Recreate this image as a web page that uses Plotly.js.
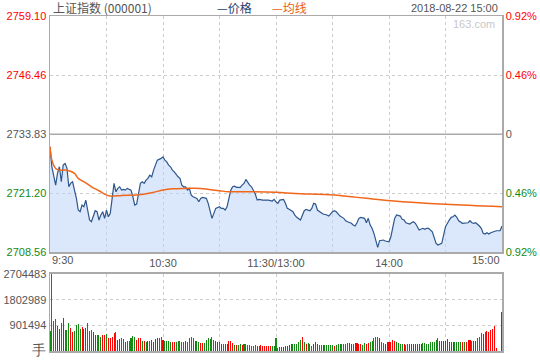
<!DOCTYPE html>
<html>
<head>
<meta charset="utf-8">
<script src="https://cdn.plot.ly/plotly-3.0.1.min.js"></script>
<style>html,body{margin:0;padding:0;background:#fff;}#chart{width:540px;height:360px;}</style>
</head>
<body>
<div id="chart"></div>
<script>
// ---- data (minute index from 9:30; 120 = 11:30/13:00; 240 = 15:00) ----
const priceMinutes = [0,1,3,4,5,6,7,8,9,10,11,12,13,14,15,16,17,18,19,20,21,22,23,24,25,26,27,28,29,30,31,32,33,34,35,36,37,38,39,40,41,43,44,45,46,47,48,49,50,51,52,53,54,55,56,57,59,60,61,62,63,64,65,66,68,69,70,71,72,73,74,75,76,78,79,
80,81,83,84,85,86,87,88,90,91,92,93,94,95,96,97,98,99,101,102,103,104,105,106,107,108,109,110,111,113,114,116,118,119,120,121,122,124,125,126,127,129,130,131,133,134,135,136,137,138,139,140,141,142,144,145,147,148,150,151,152,153,154,156,157,
158,160,161,162,163,164,165,167,168,169,170,171,172,173,174,175,176,177,178,180,181,182,183,184,186,187,188,189,190,191,192,193,194,195,196,198,199,200,201,203,204,205,206,208,209,210,212,213,214,215,216,217,219,220,222,223,224,225,226,228,229,230,231,232,233,234,236,237,239,240];
const price = [2731.12,2726.85,2722.94,2725.50,2726.85,2723.64,2727.21,2727.57,2726.57,2722.57,2723.36,2723.64,2721.87,2720.16,2717.60,2717.23,2718.66,2718.30,2719.73,2717.60,2715.46,2715.10,2716.53,2717.45,2717.23,2715.46,2716.53,2717.23,2715.82,2717.60,2716.17,2716.89,2720.10,2723.30,2721.51,2722.23,2722.57,2721.87,2722.02,2721.87,2722.23,2721.87,2720.44,2718.66,2718.88,2720.80,2723.30,2723.64,2723.30,2724.00,2724.37,2725.07,2724.71,2726.14,2727.21,2728.28,2728.64,2728.98,2728.28,2727.91,2727.21,2726.85,2726.14,2725.78,2724.71,2724.37,2722.94,2722.57,2722.57,2721.87,2722.23,2720.80,2720.44,2720.10,2719.37,
2720.10,2720.31,2720.10,2719.03,2717.23,2715.82,2716.89,2717.96,2718.30,2717.96,2717.96,2717.60,2718.30,2720.10,2721.87,2722.57,2722.72,2722.45,2722.45,2722.94,2723.30,2724.15,2723.43,2722.94,2722.57,2721.87,2721.01,2719.73,2719.88,2719.73,2719.73,2719.73,2719.52,2719.88,2719.37,2719.03,2719.73,2719.88,2719.03,2717.96,2717.75,2717.23,2716.53,2716.04,2715.46,2716.31,2717.45,2717.75,2717.60,2717.45,2717.96,2719.03,2718.88,2717.60,2717.02,2716.74,2716.53,2716.31,2717.23,2717.45,2717.23,2716.74,2716.31,2715.82,2715.31,
2715.10,2714.76,2714.39,2714.18,2714.88,2715.82,2716.04,2715.82,2714.88,2715.82,2714.39,2713.69,2712.62,2711.19,2709.63,2711.04,2711.19,2711.19,2710.97,2710.82,2711.89,2714.03,2715.82,2716.53,2716.31,2715.61,2715.46,2714.88,2714.76,2714.61,2714.88,2715.10,2714.76,2713.90,2713.32,2713.69,2713.47,2713.69,2713.69,2712.96,2711.55,2710.48,2710.12,2710.48,2712.26,2714.03,2715.46,2716.04,2716.17,2716.53,2716.04,2715.31,2714.76,2714.76,2714.88,2715.31,2714.88,2714.76,2714.88,2714.18,2713.69,2712.62,2712.47,2712.75,2712.47,2712.75,2712.96,2713.17,2713.17,2714.18];

const avgMinutes = [0,1,3,5,8,10,13,15,19,22,26,29,32,38,46,54,60,65,72,80,90,95,106,120,130,151,160,168,181,210,240];
const avgPrice = [2731.12,2728.28,2726.50,2726.14,2726.14,2725.99,2725.43,2724.37,2723.43,2722.57,2721.72,2721.01,2720.59,2720.73,2720.80,2721.29,2721.87,2722.15,2722.23,2722.23,2721.72,2721.51,2721.51,2721.38,2721.16,2720.80,2720.44,2720.10,2719.58,2718.82,2718.30];

// volume per minute 0..240 and direction (1 = up/red, -1 = down/green)
const volume = [702000,2704483,1054000,1124000,890000,773000,972000,1170000,738000,738000,1000000,820000,656000,702000,913000,948000,773000,855000,773000,820000,
983000,702000,726000,656000,562000,562000,562000,492000,562000,562000,585000,468000,468000,503000,620000,656000,386000,421000,445000,421000,
304000,351000,351000,445000,539000,492000,386000,445000,468000,351000,351000,328000,351000,351000,386000,328000,421000,445000,445000,503000,
386000,351000,351000,351000,328000,328000,304000,304000,351000,351000,328000,304000,351000,328000,445000,503000,468000,351000,351000,328000,
293000,269000,269000,386000,445000,421000,503000,386000,351000,304000,304000,258000,258000,258000,258000,351000,351000,269000,211000,211000,
211000,234000,211000,234000,234000,211000,211000,187000,164000,211000,187000,187000,211000,187000,187000,164000,187000,187000,187000,187000,
468000,94000,152000,152000,140000,187000,187000,211000,258000,234000,234000,258000,304000,386000,503000,328000,234000,269000,234000,187000,
234000,328000,258000,211000,211000,211000,211000,211000,211000,211000,211000,187000,211000,234000,234000,258000,258000,258000,281000,281000,
258000,258000,281000,281000,258000,234000,211000,281000,258000,281000,304000,351000,445000,503000,480000,445000,304000,281000,258000,304000,
304000,304000,386000,351000,304000,281000,258000,258000,258000,211000,258000,258000,258000,258000,258000,258000,258000,258000,269000,281000,
258000,258000,304000,304000,328000,386000,445000,351000,351000,351000,351000,421000,328000,304000,304000,328000,328000,328000,304000,304000,
328000,304000,386000,386000,351000,351000,351000,468000,503000,620000,585000,656000,702000,656000,738000,773000,890000,94000,0,0,
1380000];
const volDir = [-1,-1,-1,-1,1,1,-1,1,-1,-1,-1,1,1,-1,-1,-1,-1,1,1,1,
-1,-1,-1,1,1,-1,-1,-1,1,1,-1,1,1,1,1,-1,1,1,-1,-1,
1,-1,-1,-1,-1,-1,1,1,1,-1,1,-1,1,-1,1,1,1,1,-1,-1,
1,-1,-1,-1,-1,1,1,-1,-1,-1,-1,-1,1,-1,-1,-1,-1,1,-1,-1,
1,1,-1,-1,-1,-1,-1,-1,1,1,-1,1,-1,1,1,1,1,1,-1,1,
-1,-1,1,-1,-1,-1,-1,-1,-1,-1,1,-1,1,1,1,1,1,1,-1,-1,
-1,-1,1,1,1,1,1,1,1,-1,-1,-1,-1,-1,1,-1,1,-1,-1,-1,
1,1,1,-1,-1,1,-1,-1,-1,-1,-1,1,-1,-1,-1,-1,-1,-1,-1,1,
1,-1,1,1,1,1,-1,-1,1,1,-1,-1,-1,-1,-1,1,-1,-1,1,1,
1,1,1,1,-1,-1,-1,-1,1,-1,-1,1,1,1,1,1,1,1,-1,-1,
-1,-1,-1,-1,-1,-1,-1,1,1,1,1,1,1,1,1,-1,-1,-1,-1,1,
-1,1,1,1,-1,1,1,-1,-1,-1,1,-1,1,1,1,1,1,1,1,1,
1];
const volMinutes = volume.map((v, i) => i);

const priceTicks = [2708.56, 2721.20, 2733.83, 2746.46, 2759.10];
const pctTicks = ['0.92%', '0.46%', '0', '0.46%', '0.92%'];
const volTicks = [0, 901494, 1802989, 2704483];
const volTickText = ['手', '901494', '1802989', '2704483'];
const timeTickVals = [60, 120, 180];
const timeTickText = ['10:30', '11:30/13:00', '14:00'];

// ---- styles ----
const RED = '#ff0000', GREEN = '#138a13', GRAY = '#555555';
const tickColors = [GREEN, GREEN, GRAY, RED, RED];
const span = (t, c) => '<span style="color:' + c + '">' + t + '</span>';
const DASH = '3px,3px';

const traces = [
  { x: priceMinutes, y: price, type: 'scatter', mode: 'lines', xaxis: 'x', yaxis: 'y',
    line: { color: '#2d568c', width: 1.2 }, fill: 'tozeroy', fillcolor: 'rgba(190,212,246,0.55)', hoverinfo: 'skip' },
  { x: avgMinutes, y: avgPrice, type: 'scatter', mode: 'lines', xaxis: 'x', yaxis: 'y3',
    line: { color: '#f0661a', width: 1.5, shape: 'spline' }, hoverinfo: 'skip' },
  { x: volMinutes, y: volume, type: 'bar', xaxis: 'x2', yaxis: 'y2', width: 0.55,
    marker: { color: volDir.map(d => d > 0 ? RED : GREEN), line: { width: 0 } }, hoverinfo: 'skip' }
];

const axFont = { family: 'Liberation Sans, Arial, sans-serif', size: 11, color: GRAY };
const xCommon = {
  range: [0, 240], showline: true, mirror: true, linecolor: '#aaaaaa', linewidth: 1.5,
  zeroline: false, ticks: '', tickfont: axFont,
  showgrid: false,
  minor: { dtick: 30, tick0: 0, showgrid: true, gridcolor: '#cccccc', griddash: DASH, gridwidth: 1, ticks: '' }
};

const layout = {
  width: 540, height: 360,
  margin: { l: 50, r: 38, t: 16, b: 9, pad: 0 },
  paper_bgcolor: '#ffffff', plot_bgcolor: '#ffffff',
  showlegend: false, bargap: 0,
  xaxis: Object.assign({}, xCommon, { anchor: 'y', tickvals: timeTickVals, ticktext: timeTickText, showticklabels: true }),
  xaxis2: Object.assign({}, xCommon, { anchor: 'y2', matches: 'x', showticklabels: false }),
  yaxis: {
    domain: [0.2946, 1], range: [2708.56, 2759.10], anchor: 'x',
    showline: true, mirror: false, linecolor: '#aaaaaa', linewidth: 1.5,
    tickvals: priceTicks, ticktext: priceTicks.map((v, i) => span(v.toFixed(2), tickColors[i])),
    tickfont: axFont, ticks: '', zeroline: false,
    showgrid: true, gridcolor: '#cccccc', griddash: DASH, gridwidth: 1
  },
  yaxis3: {
    overlaying: 'y', side: 'right', anchor: 'x', range: [2708.56, 2759.10],
    showline: true, linecolor: '#aaaaaa', linewidth: 1.5,
    tickvals: priceTicks, ticktext: pctTicks.map((t, i) => span(t, tickColors[i])),
    tickfont: axFont, ticks: '', showgrid: false, zeroline: false
  },
  yaxis2: {
    domain: [0, 0.2299], range: [0, 2704483], anchor: 'x2',
    showline: true, mirror: true, linecolor: '#aaaaaa', linewidth: 1.5,
    tickvals: volTicks, ticktext: volTickText.map((t, i) => i === 0 ? '<span style="font-size:14px">' + t + '</span>' : t),
    tickfont: axFont, ticks: '', zeroline: false,
    showgrid: true, gridcolor: '#cccccc', griddash: DASH, gridwidth: 1
  },
  shapes: [
    { type: 'line', xref: 'x', yref: 'y', x0: 0, x1: 240, y0: priceTicks[2], y1: priceTicks[2], line: { color: '#aaaaaa', width: 1.5 } }
  ],
  annotations: [
    { text: '上证指数 (000001)', xref: 'paper', yref: 'paper', x: 0.003, y: 1.024, xanchor: 'left', yanchor: 'middle', showarrow: false,
      font: { family: 'Noto Sans CJK SC, sans-serif', size: 12, color: GRAY } },
    { text: '—价格', xref: 'paper', yref: 'paper', x: 0.365, y: 1.024, xanchor: 'left', yanchor: 'middle', showarrow: false,
      font: { family: 'Noto Sans CJK SC, sans-serif', size: 12, color: '#1f3e73' } },
    { text: '—均线', xref: 'paper', yref: 'paper', x: 0.487, y: 1.024, xanchor: 'left', yanchor: 'middle', showarrow: false,
      font: { family: 'Noto Sans CJK SC, sans-serif', size: 12, color: '#e8600f' } },
    { text: '2018-08-22 15:00', xref: 'paper', yref: 'paper', x: 0.9956, y: 1.024, xanchor: 'right', yanchor: 'middle', showarrow: false,
      font: axFont },
    { text: '163.com', xref: 'paper', yref: 'paper', x: 0.989, y: 0.976, xanchor: 'right', yanchor: 'middle', showarrow: false,
      font: { family: 'Liberation Sans, Arial, sans-serif', size: 11, color: '#c8c8c8' } },
    { text: '9:30', xref: 'x', yref: 'paper', x: 0, y: 0.2716, xanchor: 'left', yanchor: 'middle', showarrow: false, font: axFont },
    { text: '15:00', xref: 'x', yref: 'paper', x: 240, y: 0.2716, xanchor: 'right', yanchor: 'middle', showarrow: false, font: axFont }
  ]
};

Plotly.newPlot('chart', traces, layout, { staticPlot: true, displayModeBar: false });
</script>
</body>
</html>
